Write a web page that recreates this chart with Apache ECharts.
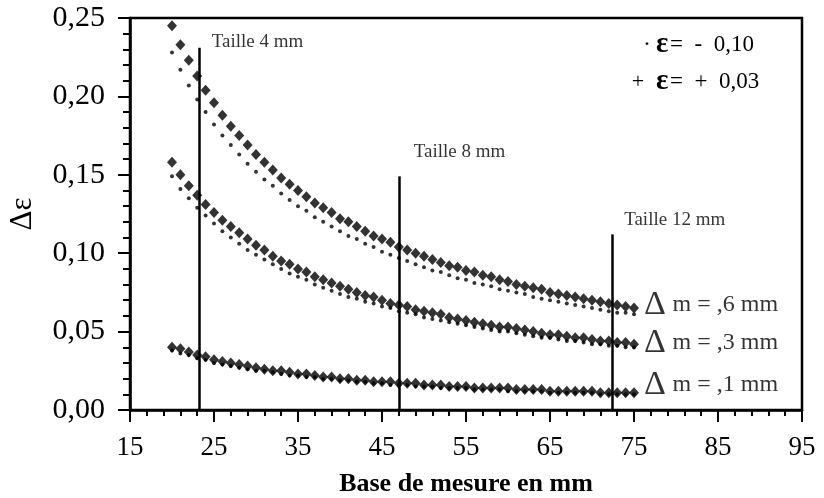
<!DOCTYPE html>
<html>
<head>
<meta charset="utf-8">
<script src="https://cdn.jsdelivr.net/npm/echarts@6/dist/echarts.min.js"></script>
<style>
  html, body { margin: 0; padding: 0; background: #fff; }
  #chart { width: 824px; height: 498px; }
</style>
</head>
<body>
<div id="chart"></div>
<script>
// Base de mesure (mm)
const bases = [20,21,22,23,24,25,26,27,28,29,30,31,32,33,34,35,36,37,38,39,40,41,42,43,44,45,46,47,
  48,49,50,51,52,53,54,55,56,57,58,59,60,61,62,63,64,65,66,67,68,69,70,71,72,73,74,75];

// Δm = 0,6 mm
const dm6Plus = [0.245,0.233,0.223,0.213,0.204,0.196,0.188,0.181,0.175,0.169,0.163,0.158,0.153,0.148,
  0.144,0.140,0.136,0.132,0.129,0.126,0.122,0.120,0.117,0.114,0.111,0.109,0.107,0.104,0.102,0.100,
  0.098,0.096,0.094,0.092,0.091,0.089,0.088,0.086,0.085,0.083,0.082,0.080,0.079,0.078,0.077,0.075,
  0.074,0.073,0.072,0.071,0.070,0.069,0.068,0.067,0.066,0.065];
const dm6Minus = [0.228,0.217,0.207,0.198,0.190,0.182,0.175,0.169,0.163,0.157,0.152,0.147,0.143,0.138,
  0.134,0.130,0.127,0.123,0.120,0.117,0.114,0.111,0.109,0.106,0.104,0.101,0.099,0.097,0.095,0.093,
  0.091,0.089,0.088,0.086,0.084,0.083,0.081,0.080,0.079,0.077,0.076,0.075,0.074,0.072,0.071,0.070,
  0.069,0.068,0.067,0.066,0.065,0.064,0.063,0.062,0.062,0.061];

// Δm = 0,3 mm
const dm3Plus = [0.158,0.150,0.143,0.137,0.131,0.126,0.121,0.117,0.113,0.109,0.105,0.102,0.098,0.095,
  0.093,0.090,0.088,0.085,0.083,0.081,0.079,0.077,0.075,0.073,0.072,0.070,0.068,0.067,0.066,0.064,
  0.063,0.062,0.061,0.059,0.058,0.057,0.056,0.055,0.054,0.053,0.053,0.052,0.051,0.050,0.049,0.048,
  0.048,0.047,0.046,0.046,0.045,0.044,0.044,0.043,0.043,0.042];
const dm3Minus = [0.149,0.141,0.135,0.129,0.124,0.119,0.114,0.110,0.106,0.102,0.099,0.096,0.093,0.090,
  0.087,0.085,0.083,0.080,0.078,0.076,0.074,0.072,0.071,0.069,0.068,0.066,0.065,0.063,0.062,0.061,
  0.059,0.058,0.057,0.056,0.055,0.054,0.053,0.052,0.051,0.050,0.050,0.049,0.048,0.047,0.046,0.046,
  0.045,0.044,0.044,0.043,0.042,0.042,0.041,0.041,0.040,0.040];

// Δm = 0,1 mm
const dm1Plus = [0.040,0.039,0.037,0.035,0.034,0.032,0.031,0.030,0.029,0.028,0.027,0.026,0.025,0.025,
  0.024,0.023,0.023,0.022,0.021,0.021,0.020,0.020,0.019,0.019,0.018,0.018,0.018,0.017,0.017,0.017,
  0.016,0.016,0.016,0.015,0.015,0.015,0.014,0.014,0.014,0.014,0.014,0.013,0.013,0.013,0.013,0.012,
  0.012,0.012,0.012,0.012,0.012,0.011,0.011,0.011,0.011,0.011];
const dm1Minus = [0.038,0.036,0.035,0.033,0.032,0.030,0.029,0.028,0.027,0.026,0.025,0.025,0.024,0.023,
  0.022,0.022,0.021,0.021,0.020,0.020,0.019,0.019,0.018,0.018,0.017,0.017,0.016,0.016,0.016,0.015,
  0.015,0.015,0.014,0.014,0.014,0.014,0.013,0.013,0.013,0.013,0.012,0.012,0.012,0.012,0.012,0.011,
  0.011,0.011,0.011,0.011,0.011,0.010,0.010,0.010,0.010,0.010];

// Taille markers: base position and height of each vertical line
const tailleBase = [23.3, 47.0, 72.4];
const tailleTop = [0.231, 0.149, 0.112];
const tailleText = ['Taille 4 mm', 'Taille 8 mm', 'Taille 12 mm'];
const tailleOffset = [[12, -6], [15, -24], [12, -14]];

const dmText = [',6', ',3', ',1'];
const dmOffset = [[10, -3], [10, -1], [10, -8]];

const legendIcons = ['·', '+'];
const legendTexts = ['=  -  0,10', '=  +  0,03'];

const SERIF = 'Liberation Serif, Times New Roman, serif';

function pairs(ys) { return bases.map((x, i) => [x, ys[i]]); }

function plusSeries(ys) {
  return {
    type: 'scatter', data: pairs(ys), symbol: 'diamond', symbolSize: [10, 11],
    itemStyle: { color: '#000' }, silent: true, z: 3
  };
}
function minusSeries(ys) {
  return {
    type: 'scatter', data: pairs(ys), symbol: 'circle', symbolSize: 4,
    itemStyle: { color: '#000' }, silent: true, z: 3
  };
}

const last = bases.length - 1;
const dmEnds = [dm6Plus[last], dm3Plus[last], dm1Plus[last]];

// legend block in the upper right corner: marker, bold epsilon, value
const legendGraphics = [];
legendTexts.forEach((t, i) => {
  const cy = 45 + i * 37;
  legendGraphics.push(
    { type: 'text', x: i === 0 ? 647 : 638, y: cy, silent: true,
      style: { text: legendIcons[i], fontFamily: SERIF, fontSize: i === 0 ? 24 : 22,
               fill: '#000', align: 'center', verticalAlign: 'middle' } },
    { type: 'text', x: 656, y: cy, silent: true,
      style: { text: 'ε', fontFamily: SERIF, fontSize: 29, fontWeight: 'bold',
               fill: '#000', align: 'left', verticalAlign: 'middle' } },
    { type: 'text', x: 670, y: cy, silent: true,
      style: { text: t, fontFamily: SERIF, fontSize: 23,
               fill: '#000', align: 'left', verticalAlign: 'middle' } }
  );
});

const chart = echarts.init(document.getElementById('chart'), null, { renderer: 'canvas' });

chart.setOption({
  animation: false,
  backgroundColor: '#fff',
  grid: {
    left: 130, right: 22, top: 18, bottom: 88,
    containLabel: false, outerBoundsMode: 'none',
    show: true, borderColor: '#000', borderWidth: 2.5, backgroundColor: 'transparent'
  },
  xAxis: {
    type: 'value', min: 15, max: 95, interval: 10,
    name: 'Base de mesure en mm', nameLocation: 'middle', nameGap: 61,
    nameTextStyle: { fontFamily: SERIF, fontWeight: 'bold', fontSize: 26, color: '#000' },
    axisLine: { onZero: false, lineStyle: { color: '#000', width: 2.5 } },
    axisTick: { length: 12, lineStyle: { color: '#000', width: 2 } },
    minorTick: { show: true, splitNumber: 5, length: 6, lineStyle: { color: '#000', width: 2 } },
    axisLabel: { margin: 24, fontFamily: SERIF, fontSize: 27, color: '#000' },
    splitLine: { show: false }
  },
  yAxis: {
    type: 'value', min: 0, max: 0.25, interval: 0.05,
    name: 'Δε', nameLocation: 'middle', nameGap: 92, nameRotate: 90,
    nameTextStyle: { fontFamily: SERIF, fontSize: 31, color: '#000' },
    axisLine: { onZero: false, lineStyle: { color: '#000', width: 2.5 } },
    axisTick: { length: 12, lineStyle: { color: '#000', width: 2 } },
    minorTick: { show: true, splitNumber: 5, length: 7, lineStyle: { color: '#000', width: 2 } },
    axisLabel: {
      margin: 25, fontFamily: SERIF, fontSize: 30, color: '#000',
      formatter: v => v.toFixed(2).replace('.', ',')
    },
    splitLine: { show: false }
  },
  series: [
    minusSeries(dm6Minus), plusSeries(dm6Plus),
    minusSeries(dm3Minus), plusSeries(dm3Plus),
    minusSeries(dm1Minus), plusSeries(dm1Plus),
    {
      // vertical "Taille" lines with their captions
      type: 'scatter', symbolSize: 0, silent: true, z: 4,
      data: tailleBase.map((x, i) => ({
        value: [x, tailleTop[i]],
        label: {
          show: true, position: 'right', distance: 0, offset: tailleOffset[i],
          formatter: tailleText[i], fontFamily: SERIF, fontSize: 19, color: '#000'
        }
      })),
      markLine: {
        silent: true, symbol: ['none', 'none'], label: { show: false },
        lineStyle: { color: '#000', width: 2.5, type: 'solid' },
        data: tailleBase.map((x, i) => [{ coord: [x, 0] }, { coord: [x, tailleTop[i]] }])
      }
    },
    {
      // Δm captions at the end of each curve
      type: 'scatter', symbolSize: 0, silent: true, z: 4,
      data: dmEnds.map((y, i) => ({
        value: [bases[last], y],
        label: {
          show: true, position: 'right', distance: 0, offset: dmOffset[i],
          formatter: '{d|Δ}  {m|m = ' + dmText[i] + ' mm}',
          rich: {
            d: { fontFamily: SERIF, fontSize: 34, color: '#000' },
            m: { fontFamily: SERIF, fontSize: 24, color: '#000' }
          }
        }
      }))
    }
  ],
  graphic: legendGraphics
});
</script>
</body>
</html>
